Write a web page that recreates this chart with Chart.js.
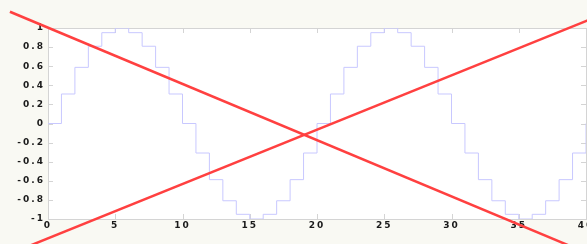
<!DOCTYPE html>
<html>
<head>
<meta charset="utf-8">
<script src="https://cdn.jsdelivr.net/npm/chart.js@4"></script>
<style>
  html, body { margin: 0; padding: 0; overflow: hidden; background: #f9f9f3; }
  #wrap { width: 610px; height: 244px; }
</style>
</head>
<body>
<div id="wrap"><canvas id="chart-stairs"></canvas></div>
<script>
// sample index and the stair values (one period of 20 samples, twice)
var sampleX = [0, 1, 2, 3, 4, 5, 6, 7, 8, 9, 10, 11, 12, 13, 14, 15, 16, 17, 18, 19,
               20, 21, 22, 23, 24, 25, 26, 27, 28, 29, 30, 31, 32, 33, 34, 35, 36, 37, 38, 39, 40];
var stairY = [0, 0.309, 0.588, 0.809, 0.951, 1, 0.951, 0.809, 0.588, 0.309,
              0, -0.309, -0.588, -0.809, -0.951, -1, -0.951, -0.809, -0.588, -0.309,
              0, 0.309, 0.588, 0.809, 0.951, 1, 0.951, 0.809, 0.588, 0.309,
              0, -0.309, -0.588, -0.809, -0.951, -1, -0.951, -0.809, -0.588, -0.309, 0];

// the two red strike lines (start / end in data units)
var strikeDownX = [-2.83, 42];
var strikeDownY = [1.17, -1.47];
var strikeUpX = [-4, 41];
var strikeUpY = [-1.43, 1.13];

var xTicks = [0, 5, 10, 15, 20, 25, 30, 35, 40];
var yTicks = [-1, -0.8, -0.6, -0.4, -0.2, 0, 0.2, 0.4, 0.6, 0.8, 1];

function pts(xs, ys) {
    return xs.map(function (x, i) { return { x: x, y: ys[i] }; });
}

const backdrop = {
    id: 'backdrop',
    beforeDraw(chart) {
        const ctx = chart.ctx, a = chart.chartArea;
        ctx.save();
        ctx.fillStyle = '#f9f9f3';
        ctx.fillRect(0, 0, chart.width, chart.height);
        ctx.fillStyle = '#ffffff';
        ctx.fillRect(a.left, a.top, a.right - a.left, a.bottom - a.top);
        ctx.restore();
        ctx.letterSpacing = '2px';
    },
    beforeDatasetsDraw(chart) {
        // box and inward tick marks on all four sides
        const ctx = chart.ctx, a = chart.chartArea;
        const xs = chart.scales.x, ys = chart.scales.y;
        ctx.save();
        ctx.strokeStyle = '#d4d4d4';
        ctx.lineWidth = 1;
        ctx.strokeRect(a.left + 0.5, a.top + 0.5, a.right - a.left, a.bottom - a.top);
        ctx.beginPath();
        xTicks.forEach(function (t) {
            const px = Math.round(xs.getPixelForValue(t)) + 0.5;
            ctx.moveTo(px, a.bottom); ctx.lineTo(px, a.bottom - 5);
            ctx.moveTo(px, a.top); ctx.lineTo(px, a.top + 5);
        });
        yTicks.forEach(function (t) {
            const py = Math.round(ys.getPixelForValue(t)) + 0.5;
            ctx.moveTo(a.left, py); ctx.lineTo(a.left + 5, py);
            ctx.moveTo(a.right, py); ctx.lineTo(a.right - 5, py);
        });
        ctx.stroke();
        ctx.restore();
    }
};

const ctx1 = document.getElementById('chart-stairs').getContext('2d');
const myChart = new Chart(ctx1, {
    type: 'line',
    data: {
        datasets: [
            {
                data: pts(strikeDownX, strikeDownY),
                borderColor: 'rgb(255,64,64)',
                borderWidth: 2.5,
                pointRadius: 0,
                clip: false
            },
            {
                data: pts(strikeUpX, strikeUpY),
                borderColor: 'rgb(255,64,64)',
                borderWidth: 2.5,
                pointRadius: 0,
                clip: false
            },
            {
                data: pts(sampleX, stairY),
                borderColor: 'rgb(200,200,255)',
                borderWidth: 1,
                pointRadius: 0,
                stepped: 'before'
            }
        ]
    },
    options: {
        responsive: true,
        maintainAspectRatio: false,
        animation: false,
        layout: { padding: { top: 28, right: 24, left: 0, bottom: 0 } },
        plugins: {
            legend: { display: false },
            tooltip: { enabled: false }
        },
        scales: {
            x: {
                type: 'linear',
                min: 0,
                max: 40,
                afterFit: function (s) { s.height = 25; },
                afterBuildTicks: function (s) { s.ticks = xTicks.map(function (v) { return { value: v }; }); },
                grid: { display: false, drawTicks: false },
                border: { display: false },
                ticks: {
                    padding: 1,
                    color: '#1a1a1a',
                    maxRotation: 0,
                    autoSkip: false,
                    font: { family: 'DejaVu Sans', size: 9, weight: 'bold' }
                }
            },
            y: {
                type: 'linear',
                min: -1,
                max: 1,
                afterFit: function (s) { s.width = 48; },
                afterBuildTicks: function (s) { s.ticks = yTicks.map(function (v) { return { value: v }; }); },
                grid: { display: false, drawTicks: false },
                border: { display: false },
                ticks: {
                    padding: 3,
                    color: '#1a1a1a',
                    autoSkip: false,
                    font: { family: 'DejaVu Sans', size: 9, weight: 'bold' },
                    callback: function (v) { return String(Math.round(v * 10) / 10); }
                }
            }
        }
    },
    plugins: [backdrop]
});
</script>
</body>
</html>
